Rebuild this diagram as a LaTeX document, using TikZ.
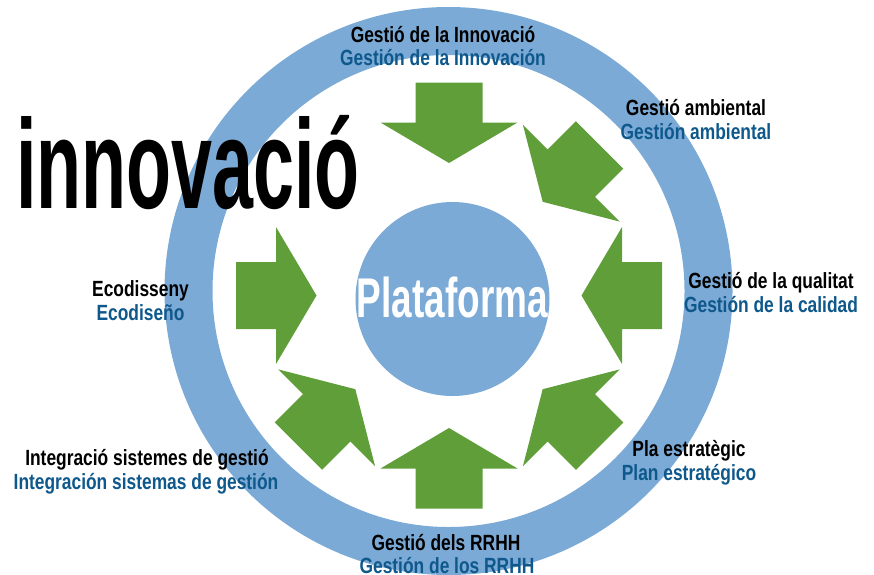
\documentclass[tikz,border=0pt]{standalone}
\usepackage{fontspec}
\setmainfont{Liberation Sans}
\newfontfamily\labf[FakeStretch=0.79]{Liberation Sans}
\newfontfamily\platf[FakeStretch=0.66]{Liberation Sans}
\newfontfamily\bigf[FakeStretch=0.58]{Liberation Sans}
\definecolor{ringblue}{RGB}{123,170,214}
\definecolor{arrgreen}{RGB}{96,158,57}
\definecolor{txtblue}{RGB}{14,88,140}
\tikzset{
  lab/.style={inner sep=0pt, anchor=base, font=\labf\bfseries\fontsize{22}{24}\selectfont, text=black},
  labb/.style={lab, text=txtblue},
  greenarrow/.style={fill=arrgreen}
}
\begin{document}
\begin{tikzpicture}[x=1pt,y=-1pt]
\useasboundingbox (0,0) rectangle (874,574);
% outer ring
\fill[ringblue, even odd rule] (448.5,291) circle[radius=284] (448.5,291) circle[radius=236];
% inner circle
\fill[ringblue] (452.5,299) circle[radius=97];
% arrows (none at the upper left)
\foreach \a in {0,45,90,180,225,270,315}{
  \fill[greenarrow, shift={(449,295.5)}, rotate=\a]
    (132.5,0) -- (173,68.5) -- (173,33.5) -- (213,33.5) -- (213,-33.5) -- (173,-33.5) -- (173,-68.5) -- cycle;
}
% big title
\node[inner sep=0pt, anchor=base, font=\bigf\bfseries\fontsize{127}{130}\selectfont] (title) at (188,208) {innovació};
% centre
\node[inner sep=0pt, anchor=base, text=white, font=\platf\bfseries\fontsize{56}{60}\selectfont] (plat) at (452.5,317) {Plataforma};
% labels
\node[lab]  (l1a) at (443,42)  {Gestió de la Innovació};
\node[labb] (l1b) at (443,65)  {Gestión de la Innovación};
\node[lab]  (l2a) at (696,115) {Gestió ambiental};
\node[labb] (l2b) at (696,139) {Gestión ambiental};
\node[lab]  (l3a) at (771,288) {Gestió de la qualitat};
\node[labb] (l3b) at (771,312) {Gestión de la calidad};
\node[lab]  (l4a) at (689,456) {Pla estratègic};
\node[labb] (l4b) at (689,480) {Plan estratégico};
\node[lab]  (l5a) at (446,550) {Gestió dels RRHH};
\node[labb] (l5b) at (447,573) {Gestión de los RRHH};
\node[lab]  (l6a) at (147,465) {Integració sistemes de gestió};
\node[labb] (l6b) at (146,489) {Integración sistemas de gestión};
\node[lab]  (l7a) at (140.5,296) {Ecodisseny};
\node[labb] (l7b) at (140.5,320) {Ecodiseño};
\end{tikzpicture}
\end{document}
